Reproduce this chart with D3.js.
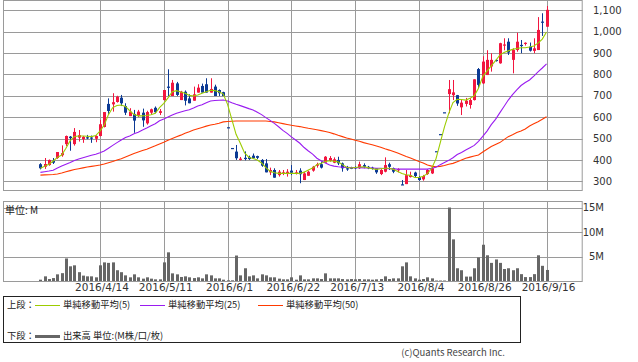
<!DOCTYPE html>
<html>
<head>
<meta charset="utf-8">
<script src="https://cdn.jsdelivr.net/npm/d3@7"></script>
<style>
  body { margin: 0; background: #fff; }
  svg { display: block; }
  .num { font-family: 'DejaVu Sans', sans-serif; font-size: 10px; fill: #333; }
  .jp { font-family: 'Noto Sans CJK JP', sans-serif; fill: #222; }
</style>
</head>
<body>
<svg width="638" height="362"></svg>
<script>
/* -------------------------- Data -------------------------- */
var dates = [
  '3/25','3/28','3/29','3/30','3/31',
  '4/1','4/4','4/5','4/6','4/7','4/8','4/11','4/12','4/13','4/14','4/15','4/18','4/19','4/20','4/21','4/22','4/25','4/26','4/27','4/28',
  '5/2','5/6','5/9','5/10','5/11','5/12','5/13','5/16','5/17','5/18','5/19','5/20','5/23','5/24','5/25','5/26','5/27','5/30','5/31',
  '6/1','6/2','6/3','6/6','6/7','6/8','6/9','6/10','6/13','6/14','6/15','6/16','6/17','6/20','6/21','6/22','6/23','6/24','6/27','6/28','6/29','6/30',
  '7/1','7/4','7/5','7/6','7/7','7/8','7/11','7/12','7/13','7/14','7/15','7/19','7/20','7/21','7/22','7/25','7/26','7/27','7/28','7/29',
  '8/1','8/2','8/3','8/4','8/5','8/8','8/9','8/10','8/12','8/15','8/16','8/17','8/18','8/19','8/22','8/23','8/24','8/25','8/26','8/29','8/30','8/31',
  '9/1','9/2','9/5','9/6','9/7','9/8','9/9','9/12','9/13','9/14','9/15','9/16'
];

var open = [380,368,376,396,409,422,474,509,474,504, 497,506,505,499,512,554,662,660,671,691,
  652,605,615,607,621,571,621,644,620,680, 743,699,758,680,719,688,677,715,746,754,
  715,743,727,717,553,456,439,400,410,414, 420,418,400,384,342,353,329,338,334,350,
  338,350,306,326,350,373,380,387,396,387, 400,384,361,364,366,361,376,368,364,361,
  334,345,380,361,353,286,287,320,341,320, 309,334,337,441,521,623,708,703,703,646,
  662,657,680,825,758,797,837,868,852,935, 953,868,914,938,943,930,910,914,1047,1023];
var high = [385,409,402,409,437,468,514,512,549,540, 512,517,514,515,587,624,688,712,700,704,
  665,642,634,634,640,630,640,650,638,727, 824,774,765,723,725,707,743,754,757,782,
  782,752,730,719,553,456,470,414,440,420, 430,420,404,404,364,361,353,353,357,376,
  353,361,345,350,372,387,393,418,418,412, 415,388,372,368,370,392,384,372,368,361,
  357,412,387,364,361,306,353,345,345,325, 330,357,368,441,521,623,774,774,704,680,
  690,690,777,830,885,913,899,870,948,969, 969,922,995,961,950,949,969,1068,1086,1120];
var low = [356,358,373,381,405,415,465,443,467,486, 480,497,480,483,510,552,615,626,668,652,
  610,605,527,600,555,565,615,618,610,678, 699,699,699,680,655,665,677,715,715,715,
  715,699,699,699,553,456,400,398,398,400, 405,404,368,342,329,317,322,329,322,329,
  332,291,306,326,345,364,360,387,392,385, 376,345,349,357,357,358,361,357,355,335,
  329,342,353,338,342,283,287,318,318,302, 303,330,334,441,521,623,618,680,653,610,
  650,640,678,735,755,797,813,860,850,913, 891,805,906,899,935,907,899,914,980,1023];
var close = [361,381,400,387,437,432,512,502,531,516, 508,502,500,512,567,624,629,670,696,665,
  621,626,584,626,585,624,637,623,628,727, 737,761,704,719,677,665,707,738,715,715,
  732,699,712,699,553,456,408,406,404,404, 408,410,373,342,353,317,345,342,345,340,
  342,333,337,345,368,380,364,415,409,403, 384,361,357,361,362,380,368,361,358,342,
  353,376,368,345,357,283,329,329,325,306, 325,353,361,441,521,623,731,716,664,668,
  677,680,777,751,860,868,868,864,946,940, 902,914,953,933,948,911,922,1008,1042,1102];

// volume, million shares
var volume = [0.27,0.95,0.4,0.6,1.36,1.6,4.6,3.0,3.2,1.8, 1.1,0.95,0.95,0.75,3.2,3.8,3.7,3.8,2.2,1.8,
  1.15,0.75,1.36,0.75,0.48,0.75,0.48,0.34,0.34,3.8, 5.85,1.56,1.36,0.82,0.95,0.75,0.6,0.75,0.54,1.36,
  1.15,0.54,0.54,0.27,0.14,0.14,5.2,1.15,2.6,0.95, 1.15,0.54,1.36,1.15,0.75,0.75,0.48,0.34,0.34,0.75,
  0.27,1.15,0.34,0.34,0.54,0.54,0.4,1.56,0.54,0.54, 0.54,0.4,0.34,0.4,0.34,0.4,0.34,0.34,0.27,0.34,
  0.4,0.95,0.4,0.54,0.54,3.0,3.8,0.95,0.54,0.27, 0.4,0.75,0.54,0.1,0.1,0.1,15.0,8.5,2.6,2.2,
  0.9,0.9,2.6,4.8,7.4,5.25,3.7,4.4,3.7,2.45, 2.6,2.2,2.6,1.4,0.8,0.8,1.4,5.25,3.1,2.25];

// moving averages
var ma5 = [361,370,380,395,412,423,455,490,510,512, 512,511,509,514,535,563,612,645,655,657,
  650,630,612,606,606,608,611,618,645,665, 690,719,724,718,712,702,699,704,712,719,
  726,724,719,708,660,590,520,478,433,413, 407,400,386,364,347,340,337,337,337,337,
  337,337,343,353,362,378,385,393,396,394, 391,378,366,362,365,367,368,364,359,356,
  359,361,361,356,346,337,331,328,318,318, 324,336,361,405,480,555,618,668,684,683,
  680,688,700,735,790,815,840,864,890,903, 910,917,921,925,925,928,933,946,965,998];
var ma25 = [342,345,348,352,362,372,380,388,397,404, 410,416,422,427,434,442,455,468,481,493,
  505,512,522,530,540,549,560,569,583,591, 601,610,618,624,630,635,643,652,658,668,
  676,678,679,680,676,667,660,654,647,640, 634,623,612,598,585,571,555,538,524,508,
  493,478,458,442,427,408,396,386,376,371, 368,366,365,364,364,364,363,362,362,361,
  361,360,359,358,357,357,357,357,357,357, 357,357,361,366,378,388,398,410,425,435,
  446,457,468,487,510,535,565,590,620,650, 680,705,728,748,762,774,792,812,830,849];
var ma50 = [329,330,331,332,334,339,345,350,355,359, 363,367,370,373,376,381,387,393,400,406,
  414,422,430,437,444,450,458,466,475,483, 492,500,508,516,525,532,540,546,552,558,
  563,567,572,578,580,581,582,582,582,582, 582,582,582,582,580,578,574,570,566,562,
  559,556,552,548,545,541,537,533,528,522, 515,509,503,498,492,487,481,476,471,465,
  459,452,446,439,432,424,416,409,401,393, 386,376,371,368,370,374,380,384,392,400,
  408,413,418,423,437,450,463,472,481,495, 509,518,528,535,545,559,569,579,590,602];

var tickDates = ['4/14','5/11','6/1','6/22','7/13','8/4','8/26','9/16'];
var priceTicks = [300,400,500,600,700,800,900,1000,1100];
var volTicks = [5,10,15];

/* -------------------------- Setup -------------------------- */
var svg = d3.select('svg');
var left = 3, right = 582.7;
var upColor = '#f2163f', downColor = '#0c3a94', gridColor = '#9a9a9a';

var x = d3.scaleLinear().domain([-8.8, 127.5]).range([left, right]);
var y = d3.scaleLinear().domain([258, 1148]).range([190.3, 0]);
var yv = d3.scaleLinear().domain([0, 16.33]).range([281, 201]);

var tickIdx = tickDates.map(function (d) { return dates.indexOf(d); });
var idx = d3.range(dates.length);
function px(i) { return Math.round(x(i)); }
function crisp(v) { return Math.round(v) + 0.5; }

/* ------------------------- Grids ------------------------- */
function grid(top, bottom, yValues, scale) {
  var g = svg.append('g').attr('stroke', gridColor).attr('stroke-width', 1);
  g.selectAll('.h').data(yValues).enter().append('line')
    .attr('x1', left).attr('x2', right)
    .attr('y1', function (d) { return crisp(scale(d)); })
    .attr('y2', function (d) { return crisp(scale(d)); });
  g.selectAll('.v').data(tickIdx).enter().append('line')
    .attr('x1', function (i) { return px(i) + 0.5; })
    .attr('x2', function (i) { return px(i) + 0.5; })
    .attr('y1', top).attr('y2', bottom);
  g.append('rect')
    .attr('x', left + 0.5).attr('y', top + 0.5)
    .attr('width', right - left - 1).attr('height', bottom - top - 1)
    .attr('fill', 'none');
}
grid(0, 191, priceTicks, y);
grid(201, 282, volTicks, yv);

/* ------------------------- Candles ------------------------- */
var candles = svg.append('g');
idx.forEach(function (i) {
  var col = close[i] > open[i] ? upColor : downColor;
  candles.append('line')
    .attr('x1', px(i) + 0.5).attr('x2', px(i) + 0.5)
    .attr('y1', y(high[i])).attr('y2', y(low[i]))
    .attr('stroke', col).attr('stroke-width', 1);
  var top = Math.min(y(open[i]), y(close[i]));
  var h = Math.max(1.2, Math.abs(y(open[i]) - y(close[i])));
  candles.append('rect')
    .attr('x', px(i) - 1).attr('width', 3)
    .attr('y', top).attr('height', h)
    .attr('fill', col);
});

/* --------------------- Moving averages --------------------- */
function maLine(values, color) {
  var line = d3.line()
    .x(function (d, i) { return x(i); })
    .y(function (d) { return y(d); });
  svg.append('path').datum(values)
    .attr('d', line).attr('fill', 'none')
    .attr('stroke', color).attr('stroke-width', 1.1);
}
maLine(ma50, '#ff3a00');
maLine(ma25, '#9a1cf0');
maLine(ma5, '#9ccc00');

/* ------------------------- Volume ------------------------- */
svg.append('g').selectAll('rect').data(idx).enter().append('rect')
  .attr('x', function (i) { return px(i) - 1; })
  .attr('width', 3)
  .attr('y', function (i) { return yv(volume[i]); })
  .attr('height', function (i) { return yv(0) - yv(volume[i]); })
  .attr('fill', '#666');

/* -------------------------- Axes -------------------------- */
var yAxis = svg.append('g').attr('transform', 'translate(593,0)')
  .call(d3.axisRight(y).tickValues(priceTicks).tickFormat(d3.format(',')).tickSize(0).tickPadding(0));
var vAxis = svg.append('g').attr('transform', 'translate(604,0)')
  .call(d3.axisLeft(yv).tickValues(volTicks).tickFormat(function (d) { return d + 'M'; }).tickSize(0).tickPadding(0));
var xAxis = svg.append('g').attr('transform', 'translate(1.5,284)')
  .call(d3.axisBottom(x).tickValues(tickIdx).tickFormat(function (i) { return '2016/' + dates[i]; }).tickSize(0).tickPadding(0));

[yAxis, vAxis, xAxis].forEach(function (a) {
  a.select('.domain').remove();
  a.selectAll('text').attr('class', 'num').attr('fill', null);
});
xAxis.selectAll('text').style('font-size', '10.5px');

svg.append('text').attr('class', 'jp').attr('x', 5).attr('y', 213.5)
  .style('font-size', '10px').text('単位: M');

/* ------------------------- Legend ------------------------- */
var legend = svg.append('g');
legend.append('rect').attr('x', 3.5).attr('y', 296.5).attr('width', 517).attr('height', 46)
  .attr('fill', 'none').attr('stroke', '#222');

var rows = [
  { label: '上段：', y: 305, items: [
    { x: 35, color: '#9ccc00', w: 1, text: '単純移動平均(5)' },
    { x: 140, color: '#9a1cf0', w: 1, text: '単純移動平均(25)' },
    { x: 258, color: '#ff3a00', w: 1, text: '単純移動平均(50)' }] },
  { label: '下段：', y: 336, items: [
    { x: 35, color: '#666', w: 3, text: '出来高 単位:(M株/口/枚)' }] }
];
rows.forEach(function (r) {
  legend.append('text').attr('class', 'jp').attr('x', 7).attr('y', r.y + 3.3)
    .style('font-size', '9.3px').text(r.label);
  r.items.forEach(function (it) {
    legend.append('line').attr('x1', it.x).attr('x2', it.x + 25)
      .attr('y1', r.y + 0.5).attr('y2', r.y + 0.5)
      .attr('stroke', it.color).attr('stroke-width', it.w);
    legend.append('text').attr('class', 'jp').attr('x', it.x + 28).attr('y', r.y + 3.3)
      .style('font-size', '9.3px').text(it.text);
  });
});

svg.append('text').attr('class', 'jp').attr('x', 505).attr('y', 356)
  .attr('text-anchor', 'end').style('font-size', '9.5px').style('fill', '#444')
  .text('(c)Quants Research Inc.');
</script>
</body>
</html>
